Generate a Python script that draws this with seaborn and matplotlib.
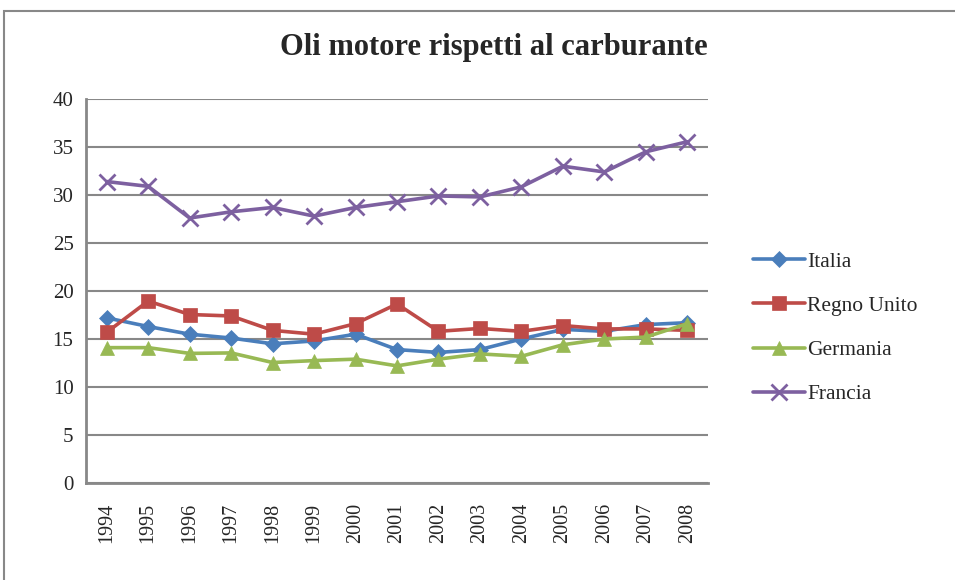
import matplotlib
matplotlib.use('Agg')
import matplotlib.pyplot as plt
import matplotlib.patches as patches
from matplotlib.ticker import FixedLocator
import seaborn as sns
import pandas as pd


years = list(range(1994, 2009))
italia = [17.2, 16.3, 15.5, 15.1, 14.5, 14.8, 15.5, 13.9, 13.6, 13.9, 15.0, 16.0, 15.8, 16.5, 16.7]
regno_unito = [15.7, 18.95, 17.55, 17.4, 15.9, 15.5, 16.6, 18.65, 15.8, 16.1, 15.8, 16.4, 16.05, 16.05, 15.9]
germania = [14.1, 14.1, 13.5, 13.55, 12.55, 12.75, 12.9, 12.2, 12.9, 13.45, 13.2, 14.4, 15.0, 15.2, 16.6]
francia = [31.4, 30.9, 27.6, 28.25, 28.7, 27.8, 28.7, 29.3, 29.9, 29.8, 30.85, 33.0, 32.4, 34.5, 35.55]

series = ['Italia', 'Regno Unito', 'Germania', 'Francia']
colors = ['#4A7EBB', '#BE4B48', '#98B954', '#7D60A0']
markers = ['D', 's', '^', 'x']
msizes = [8, 10, 10, 11]

df = pd.DataFrame({'anno': years, 'Italia': italia, 'Regno Unito': regno_unito,
                   'Germania': germania, 'Francia': francia})
long = df.melt(id_vars='anno', var_name='paese', value_name='valore')

sns.set_style('white')
plt.rcParams['font.family'] = ['Liberation Serif', 'DejaVu Serif']

fig = plt.figure(figsize=(9.55, 5.8), dpi=100)
ax = fig.add_axes([86 / 955, 1 - 483 / 580, (708 - 86) / 955, (483 - 99) / 580])

for name, c, m, ms in zip(series, colors, markers, msizes):
    sub = long[long['paese'] == name]
    sns.lineplot(data=sub, x='anno', y='valore', ax=ax, color=c, lw=2.6,
                 marker=m, markersize=ms, markeredgecolor=c,
                 markeredgewidth=2 if m == 'x' else 0.5, label=name)

ax.set_xlim(1993.5, 2008.5)
ax.set_ylim(0, 40)
ax.set_yticks(range(0, 41, 5))
ax.yaxis.grid(True, color='#888888', lw=1.5)
ax.set_axisbelow(True)

ax.xaxis.set_major_locator(FixedLocator([y - 0.5 for y in years] + [2008.5]))
ax.set_xticklabels([])
ax.set_xticks(years, minor=True)
ax.set_xticklabels([str(y) for y in years], minor=True, rotation=90, fontsize=14.5)
ax.tick_params(axis='x', which='major', direction='out', length=6, width=1.5, color='#888888')
ax.tick_params(axis='x', which='minor', length=0, pad=14)
ax.tick_params(axis='y', direction='out', length=6, width=1.5, color='#888888', labelsize=15, pad=3)

for s in ['top', 'right']:
    ax.spines[s].set_visible(False)
for s in ['left', 'bottom']:
    ax.spines[s].set_color('#888888')
    ax.spines[s].set_linewidth(2)

ax.set_xlabel('')
ax.set_ylabel('')

fig.text(494 / 955, 1 - 47 / 580, 'Oli motore rispetti al carburante',
         ha='center', va='center', fontsize=22, fontweight='bold')

ax.legend(loc='center left', bbox_to_anchor=(734 / 955, 1 - 328 / 580),
          bbox_transform=fig.transFigure, frameon=False, fontsize=15.5,
          handlelength=2.4, handletextpad=0.1, labelspacing=1.12)

fig.patches.append(patches.Rectangle((4 / 955, -0.1), 2, 1 - 11 / 580 + 0.1,
                                     transform=fig.transFigure, fill=False,
                                     edgecolor='#888888', lw=1.5))

fig.savefig('out.png', dpi=100)
